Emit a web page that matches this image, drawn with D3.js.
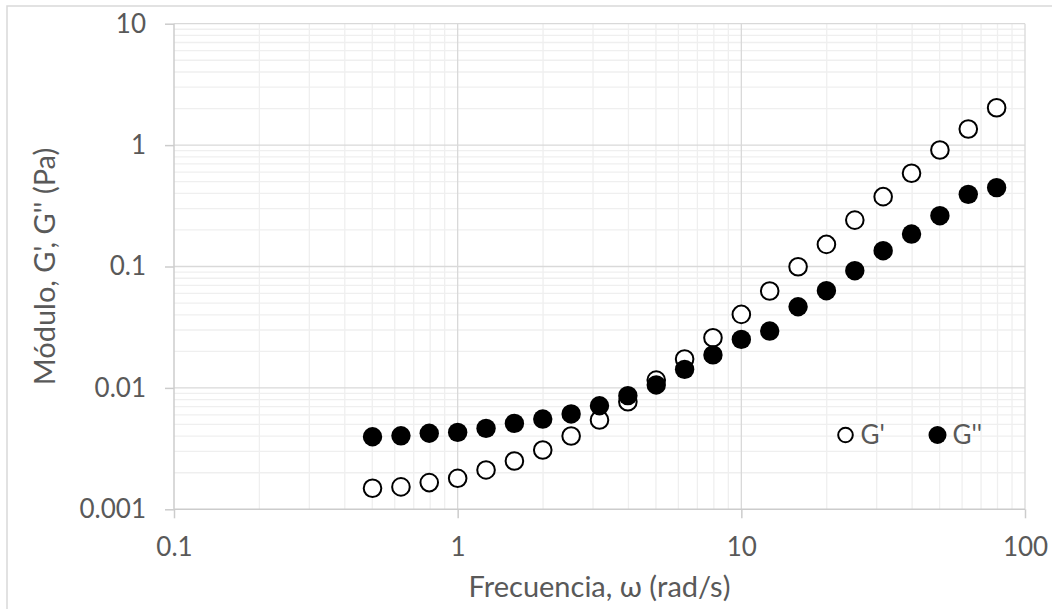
<!DOCTYPE html>
<html>
<head>
<meta charset="utf-8">
<script src="https://cdn.jsdelivr.net/npm/d3@7"></script>
<style>
  html, body { margin: 0; padding: 0; background: #fff; }
  svg { display: block; font-family: Lato, "Open Sans", sans-serif; }
</style>
</head>
<body>
<svg id="chart" width="1052" height="609"></svg>
<script>
// Angular frequency (rad/s)
const frequency = [0.501, 0.631, 0.794, 1.0, 1.259, 1.585, 1.995, 2.512, 3.162, 3.981, 5.012,
  6.310, 7.943, 10.0, 12.59, 15.85, 19.95, 25.12, 31.62, 39.81, 50.12, 63.10, 79.43];
// Storage modulus G' (Pa)
const storageModulus = [0.00149, 0.00153, 0.00166, 0.00180, 0.00211, 0.00250, 0.00308, 0.00402,
  0.00544, 0.00769, 0.0116, 0.0173, 0.0259, 0.0403, 0.0628, 0.0996, 0.152, 0.241, 0.376,
  0.586, 0.911, 1.357, 2.03];
// Loss modulus G'' (Pa)
const lossModulus = [0.00396, 0.00403, 0.00423, 0.00430, 0.00464, 0.00510, 0.00554, 0.00610,
  0.00713, 0.00863, 0.01057, 0.0142, 0.0187, 0.0251, 0.0294, 0.0466, 0.0632, 0.0923, 0.135,
  0.185, 0.262, 0.393, 0.446];

const xTicks = [0.1, 1, 10, 100];
const xTickLabels = ["0.1", "1", "10", "100"];
const yTicks = [0.001, 0.01, 0.1, 1, 10];
const yTickLabels = ["0.001", "0.01", "0.1", "1", "10"];
const seriesNames = ["G'", "G''"];
const xTitle = "Frecuencia, ω (rad/s)";
const yTitle = "Módulo, G', G'' (Pa)";

const svg = d3.select("#chart");
const plot = { left: 174, right: 1025, top: 23.7, bottom: 509.3 };
const textColor = "#595959";

const x = d3.scaleLog().domain([0.1, 100]).range([plot.left, plot.right]);
const y = d3.scaleLog().domain([0.001, 10]).range([plot.bottom, plot.top]);

// Chart area outline
svg.append("rect")
  .attr("x", 7).attr("y", 6).attr("width", 1200).attr("height", 800)
  .attr("fill", "#fff").attr("stroke", "#d9d9d9").attr("stroke-width", 1.5);

// Minor gridlines (2..9 within each decade)
const minorVals = (lo, hi) => {
  const out = [];
  for (let d = lo; d < hi; d *= 10) for (let k = 2; k <= 9; k++) out.push(d * k);
  return out;
};
const grid = svg.append("g");
grid.selectAll(".vminor").data(minorVals(0.1, 100)).join("line")
  .attr("x1", d => x(d)).attr("x2", d => x(d))
  .attr("y1", plot.top).attr("y2", plot.bottom)
  .attr("stroke", "#efefef").attr("stroke-width", 1.3);
grid.selectAll(".hminor").data(minorVals(0.001, 10)).join("line")
  .attr("y1", d => y(d)).attr("y2", d => y(d))
  .attr("x1", plot.left).attr("x2", plot.right)
  .attr("stroke", "#efefef").attr("stroke-width", 1.3);
// Major gridlines
grid.selectAll(".vmajor").data(xTicks.slice(1)).join("line")
  .attr("x1", d => x(d)).attr("x2", d => x(d))
  .attr("y1", plot.top).attr("y2", plot.bottom)
  .attr("stroke", "#d9d9d9").attr("stroke-width", 1.3);
grid.selectAll(".hmajor").data(yTicks.slice(1)).join("line")
  .attr("y1", d => y(d)).attr("y2", d => y(d))
  .attr("x1", plot.left).attr("x2", plot.right)
  .attr("stroke", "#d9d9d9").attr("stroke-width", 1.3);

// Axes
const xAxis = d3.axisBottom(x).tickValues(xTicks)
  .tickFormat((d, i) => xTickLabels[i]).tickSize(9).tickPadding(19);
const yAxis = d3.axisLeft(y).tickValues(yTicks)
  .tickFormat((d, i) => yTickLabels[i]).tickSize(9).tickPadding(19);

const gx = svg.append("g").attr("transform", `translate(0,${plot.bottom})`).call(xAxis);
const gy = svg.append("g").attr("transform", `translate(${plot.left},0)`).call(yAxis);
[gx, gy].forEach(g => {
  g.select(".domain").attr("stroke", "#cccccc").attr("stroke-width", 1.5);
  g.selectAll(".tick line").attr("stroke", "#cccccc").attr("stroke-width", 1.5);
  g.selectAll(".tick text").attr("fill", textColor)
    .style("font-size", "26px").style("font-family", "Lato, sans-serif");
});
gx.select(".domain").attr("d", `M${plot.left},0H${plot.right}`);
gy.select(".domain").attr("d", `M0,${plot.bottom}V${plot.top}`);

// Axis titles
svg.append("text")
  .attr("x", (plot.left + plot.right) / 2).attr("y", 597)
  .attr("text-anchor", "middle").attr("fill", textColor)
  .style("font-size", "29px").text(xTitle);
svg.append("text")
  .attr("transform", `translate(55,${(plot.top + plot.bottom) / 2}) rotate(-90)`)
  .attr("text-anchor", "middle").attr("fill", textColor)
  .style("font-size", "29px").text(yTitle);

// Series: G' (open) drawn first, G'' (filled) on top
const pts = (ys) => frequency.map((f, i) => ({ f, v: ys[i] }));
svg.append("g").selectAll("circle").data(pts(storageModulus)).join("circle")
  .attr("cx", d => x(d.f)).attr("cy", d => y(d.v)).attr("r", 8.8)
  .attr("fill", "#fff").attr("stroke", "#000").attr("stroke-width", 2);
svg.append("g").selectAll("circle").data(pts(lossModulus)).join("circle")
  .attr("cx", d => x(d.f)).attr("cy", d => y(d.v)).attr("r", 9.7)
  .attr("fill", "#000");

// Legend
const legend = svg.append("g");
const legendItems = [
  { name: seriesNames[0], cx: 845.5, fill: "#fff", r: 7.3, sw: 2 },
  { name: seriesNames[1], cx: 937.5, fill: "#000", r: 9, sw: 0 }
];
legendItems.forEach(it => {
  legend.append("circle").attr("cx", it.cx).attr("cy", 435).attr("r", it.r)
    .attr("fill", it.fill).attr("stroke", "#000").attr("stroke-width", it.sw);
  legend.append("text").attr("x", it.cx + 15).attr("y", 444)
    .attr("fill", textColor).style("font-size", "26px").text(it.name);
});
</script>
</body>
</html>
